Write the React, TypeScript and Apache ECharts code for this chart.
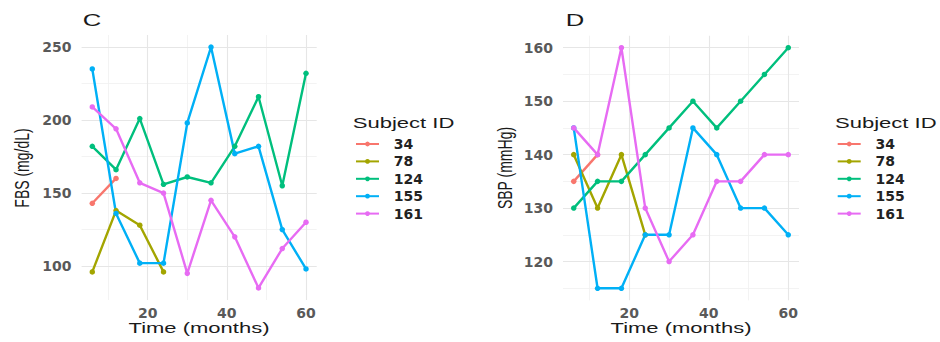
import React, { useEffect, useRef } from "react";
import * as echarts from "echarts";

const times = [6, 12, 18, 24, 30, 36, 42, 48, 54, 60];
const subjectIds = ["34", "78", "124", "155", "161"];
const colors = ["#F8766D", "#A3A500", "#00BF7D", "#00B0F6", "#E76BF3"];

// FBS (mg/dL) – panel C
const fbs34 = [143, 160];
const fbs78 = [96, 138, 128, 96];
const fbs124 = [182, 166, 201, 156, 161, 157, 182, 216, 155, 232];
const fbs155 = [235, 136, 102, 102, 198, 250, 177, 182, 125, 98];
const fbs161 = [209, 194, 157, 150, 95, 145, 120, 85, 112, 130];

// SBP (mmHg) – panel D
const sbp34 = [135, 140];
const sbp78 = [140, 130, 140, 125];
const sbp124 = [130, 135, 135, 140, 145, 150, 145, 150, 155, 160];
const sbp155 = [145, 115, 115, 125, 125, 145, 140, 130, 130, 125];
const sbp161 = [145, 140, 160, 130, 120, 125, 135, 135, 140, 140];

const timeTicks = [20, 40, 60];
const timeMinor = [10, 30, 50];
const fbsTicks = [100, 150, 200, 250];
const fbsMinor = [125, 175, 225];
const sbpTicks = [120, 130, 140, 150, 160];
const sbpMinor = [115, 125, 135, 145, 155];

const fbsSeries = [fbs34, fbs78, fbs124, fbs155, fbs161];
const sbpSeries = [sbp34, sbp78, sbp124, sbp155, sbp161];

function expand(vals: number[]) {
  const lo = Math.min(...vals);
  const hi = Math.max(...vals);
  const pad = (hi - lo) * 0.05;
  return [lo - pad, hi + pad];
}

const tickFont = {
  fontFamily: "DejaVu Sans",
  fontWeight: "bold" as const,
  fontSize: 14,
  color: "#595959",
};

export default function App() {
  const ref = useRef<HTMLDivElement>(null);
  useEffect(() => {
    document.body.style.margin = "0";
    if (!ref.current) return;
    const chart = echarts.init(ref.current, undefined, { renderer: "svg" });

    const [xMin, xMax] = expand(times);
    const [fMin, fMax] = expand(fbsSeries.flat());
    const [sMin, sMax] = expand(sbpSeries.flat());

    const major = { color: "#E6E6E6", width: 1.1, type: "solid" };
    const minor = { color: "#F0F0F0", width: 0.8, type: "solid" };

    const gridLines = (yMajor: number[], yMinor: number[]) => [
      ...timeMinor.map((v) => ({ xAxis: v, lineStyle: minor })),
      ...yMinor.map((v) => ({ yAxis: v, lineStyle: minor })),
      ...timeTicks.map((v) => ({ xAxis: v, lineStyle: major })),
      ...yMajor.map((v) => ({ yAxis: v, lineStyle: major })),
    ];

    const dummy = (idx: number, yMajor: number[], yMinor: number[]) => ({
      type: "line",
      xAxisIndex: idx,
      yAxisIndex: idx,
      data: [],
      silent: true,
      z: 1,
      markLine: {
        silent: true,
        z: 1,
        symbol: ["none", "none"],
        label: { show: false },
        emphasis: { disabled: true },
        data: gridLines(yMajor, yMinor),
      },
    });

    const makeSeries = (idx: number, sets: number[][]) =>
      sets.map((vals, i) => ({
        type: "line",
        name: subjectIds[i],
        xAxisIndex: idx,
        yAxisIndex: idx,
        data: vals.map((v, j) => [times[j], v]),
        symbol: "circle",
        symbolSize: 5.5,
        showSymbol: true,
        z: 3,
        itemStyle: { color: colors[i] },
        lineStyle: { color: colors[i], width: 2.4 },
      }));

    const xAxisBase = (idx: number) => ({
      type: "value",
      gridIndex: idx,
      min: xMin,
      max: xMax,
      axisLine: { show: false },
      axisTick: { show: false },
      splitLine: { show: false },
      axisLabel: { ...tickFont, margin: 6, customValues: timeTicks },
    });

    const legendBase = (left: number) => ({
      orient: "vertical",
      left,
      top: 137,
      padding: 0,
      itemWidth: 23,
      itemHeight: 6,
      itemGap: 3.4,
      data: subjectIds,
      formatter: (n: string) => "\u00A0\u00A0" + n,
      textStyle: {
        fontFamily: "DejaVu Sans",
        fontWeight: "bold",
        fontSize: 14,
        color: "#222222",
      },
    });

    const txt = (
      text: string,
      x: number,
      y: number,
      size: number,
      extra: any = {},
      align = "center"
    ) => ({
      type: "text",
      x,
      y,
      ...extra,
      style: {
        text,
        font: `${size}px "Liberation Sans"`,
        fill: "#1A1A1A",
        align,
        verticalAlign: "middle",
        textAlign: align,
        textVerticalAlign: "middle",
      },
    });

    chart.setOption({
      animation: false,
      backgroundColor: "#ffffff",
      grid: [
        { left: 81.6, top: 35, width: 235.1, height: 265, containLabel: false },
        { left: 563, top: 35.7, width: 236, height: 264.6, containLabel: false },
      ],
      xAxis: [xAxisBase(0), xAxisBase(1)],
      yAxis: [
        {
          type: "value",
          gridIndex: 0,
          min: fMin,
          max: fMax,
          axisLine: { show: false },
          axisTick: { show: false },
          splitLine: { show: false },
          axisLabel: { ...tickFont, margin: 10, customValues: fbsTicks },
        },
        {
          type: "value",
          gridIndex: 1,
          min: sMin,
          max: sMax,
          axisLine: { show: false },
          axisTick: { show: false },
          splitLine: { show: false },
          axisLabel: { ...tickFont, margin: 10, customValues: sbpTicks },
        },
      ],
      legend: [legendBase(355), legendBase(836.7)],
      graphic: [
        txt("C", 92, 21, 16, { scaleX: 1.6 }),
        txt("D", 575, 21, 16, { scaleX: 1.6 }),
        txt("Time (months)", 199, 328, 15.5, { scaleX: 1.42 }),
        txt("Time (months)", 681, 328, 15.5, { scaleX: 1.42 }),
        txt("FBS (mg/dL)", 22, 168, 14, { rotation: Math.PI / 2, scaleY: 1.45 }),
        txt("SBP (mmHg)", 505, 168, 14, { rotation: Math.PI / 2, scaleY: 1.45 }),
        txt("Subject ID", 352.7, 122.7, 15, { scaleX: 1.47 }, "left"),
        txt("Subject ID", 835, 122.7, 15, { scaleX: 1.47 }, "left"),
      ],
      series: [
        dummy(0, fbsTicks, fbsMinor),
        dummy(1, sbpTicks, sbpMinor),
        ...makeSeries(0, fbsSeries),
        ...makeSeries(1, sbpSeries),
      ],
    });
    return () => chart.dispose();
  }, []);
  return <div ref={ref} style={{ width: 940, height: 342 }} />;
}
